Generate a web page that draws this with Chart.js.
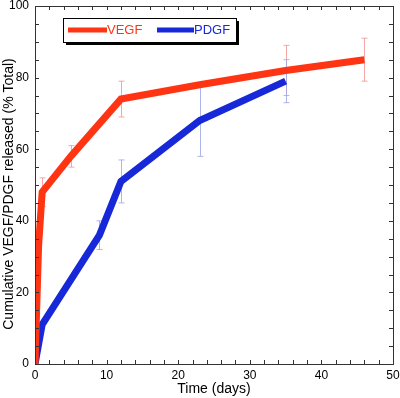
<!DOCTYPE html>
<html>
<head>
<meta charset="utf-8">
<script src="https://cdn.jsdelivr.net/npm/chart.js@4"></script>
<style>
  html, body { margin: 0; padding: 0; background: #fff; }
  #box { width: 400px; height: 398px; }
</style>
</head>
<body>
<div id="box"><canvas id="grafico"></canvas></div>
<script>
// dados
const vegfDays = [0, 0.5, 1, 5, 12, 23, 35, 46];
const vegfValues = [0, 33, 48, 58, 74, 78, 82, 85];
const vegfErr = [0, 0, 4, 3, 5, 0, 7, 6];

const pdgfDays = [0, 1, 9, 12, 23, 35];
const pdgfValues = [0, 11, 36, 51, 68, 79];
const pdgfErr = [0, 0, 4, 6, 10, 6];

const xTicks = [0, 10, 20, 30, 40, 50];
const yTicks = [0, 20, 40, 60, 80, 100];

const fonte = 'Liberation Sans, Arial, Helvetica, sans-serif';
const vermelho = 'rgb(255, 52, 18)';
const azul = 'rgb(22, 40, 215)';

function pontos(xs, ys) {
  return xs.map((x, i) => ({ x: x, y: ys[i] }));
}

// barras de erro, moldura, ticks internos, titulo do eixo y e legenda
const extras = {
  id: 'extras',
  beforeDatasetsDraw(chart) {
    const ctx = chart.ctx;
    const x = chart.scales.x, y = chart.scales.y;
    const series = [
      [vegfDays, vegfValues, vegfErr, 'rgba(242, 150, 150, 0.85)'],
      [pdgfDays, pdgfValues, pdgfErr, 'rgba(160, 168, 230, 0.85)']
    ];
    ctx.save();
    ctx.lineWidth = 1;
    series.forEach(s => {
      ctx.strokeStyle = s[3];
      s[0].forEach((d, i) => {
        if (!s[2][i]) return;
        const px = Math.round(x.getPixelForValue(d)) + 0.5;
        const top = y.getPixelForValue(s[1][i] + s[2][i]);
        const bot = y.getPixelForValue(s[1][i] - s[2][i]);
        ctx.beginPath();
        ctx.moveTo(px, top); ctx.lineTo(px, bot);
        ctx.moveTo(px - 3, top); ctx.lineTo(px + 3, top);
        ctx.moveTo(px - 3, bot); ctx.lineTo(px + 3, bot);
        ctx.stroke();
      });
    });
    ctx.restore();
  },
  afterDraw(chart) {
    const ctx = chart.ctx;
    const a = chart.chartArea;
    const x = chart.scales.x, y = chart.scales.y;
    ctx.save();
    ctx.strokeStyle = '#333';
    ctx.lineWidth = 1;
    ctx.strokeRect(Math.round(a.left) + 0.5, Math.round(a.top) + 0.5,
      Math.round(a.right - a.left), Math.round(a.bottom - a.top));
    ctx.beginPath();
    for (let d = 0; d <= 50; d += 2) {
      const px = Math.round(x.getPixelForValue(d)) + 0.5;
      ctx.moveTo(px, a.bottom); ctx.lineTo(px, a.bottom - 4);
      ctx.moveTo(px, a.top); ctx.lineTo(px, a.top + 4);
    }
    for (let v = 0; v <= 100; v += 5) {
      const py = Math.round(y.getPixelForValue(v)) + 0.5;
      ctx.moveTo(a.left, py); ctx.lineTo(a.left + 4, py);
      ctx.moveTo(a.right, py); ctx.lineTo(a.right - 4, py);
    }
    ctx.stroke();

    // titulo do eixo y
    ctx.save();
    ctx.translate(9, 194);
    ctx.rotate(-Math.PI / 2);
    ctx.font = '14px ' + fonte;
    ctx.fillStyle = '#000';
    ctx.textAlign = 'center';
    ctx.textBaseline = 'middle';
    ctx.fillText('Cumulative VEGF/PDGF released (% Total)', 0, 0);
    ctx.restore();

    // legenda com sombra
    const lx = 63, ly = 18, lw = 173, lh = 24;
    ctx.fillStyle = '#000';
    ctx.fillRect(lx + 3, ly + 3, lw, lh);
    ctx.fillStyle = '#fff';
    ctx.fillRect(lx, ly, lw, lh);
    ctx.strokeStyle = '#000';
    ctx.strokeRect(lx + 0.5, ly + 0.5, lw, lh);
    ctx.lineWidth = 5;
    ctx.strokeStyle = vermelho;
    ctx.beginPath(); ctx.moveTo(68, 30); ctx.lineTo(107, 30); ctx.stroke();
    ctx.strokeStyle = azul;
    ctx.beginPath(); ctx.moveTo(157, 30); ctx.lineTo(194, 30); ctx.stroke();
    ctx.font = '13px ' + fonte;
    ctx.textBaseline = 'middle';
    ctx.fillStyle = vermelho;
    ctx.fillText('VEGF', 107, 30.5);
    ctx.fillStyle = azul;
    ctx.fillText('PDGF', 194, 30.5);
    ctx.restore();
  }
};

const ctx = document.getElementById('grafico').getContext('2d');

const meuGrafico = new Chart(ctx, {
  type: 'line',
  data: {
    datasets: [{
      label: 'VEGF',
      data: pontos(vegfDays, vegfValues),
      borderColor: vermelho,
      borderWidth: 7,
      pointRadius: 0,
      tension: 0
    }, {
      label: 'PDGF',
      data: pontos(pdgfDays, pdgfValues),
      borderColor: azul,
      borderWidth: 7,
      pointRadius: 0,
      tension: 0
    }]
  },
  options: {
    responsive: true,
    maintainAspectRatio: false,
    animation: false,
    layout: { padding: { top: 6, right: 7, left: 0, bottom: 0 } },
    plugins: {
      legend: { display: false },
      tooltip: { enabled: false }
    },
    scales: {
      x: {
        type: 'linear',
        min: 0,
        max: 50,
        afterFit: (s) => { s.height = 34; s.paddingLeft = 0; s.paddingRight = 0; },
        afterBuildTicks: (s) => { s.ticks = xTicks.map(v => ({ value: v })); },
        grid: { display: false, drawTicks: false },
        border: { display: false },
        ticks: { color: '#000', padding: 4, maxRotation: 0, font: { family: fonte, size: 12 } },
        title: { display: true, text: 'Time (days)', color: '#000', padding: 0, font: { family: fonte, size: 14 } }
      },
      y: {
        min: 0,
        max: 100,
        afterFit: (s) => { s.width = 35; s.paddingTop = 0; s.paddingBottom = 0; },
        afterBuildTicks: (s) => { s.ticks = yTicks.map(v => ({ value: v })); },
        grid: { display: false, drawTicks: false },
        border: { display: false },
        ticks: { color: '#000', padding: 6, font: { family: fonte, size: 12 } },
        title: { display: false }
      }
    }
  },
  plugins: [extras]
});
</script>
</body>
</html>
